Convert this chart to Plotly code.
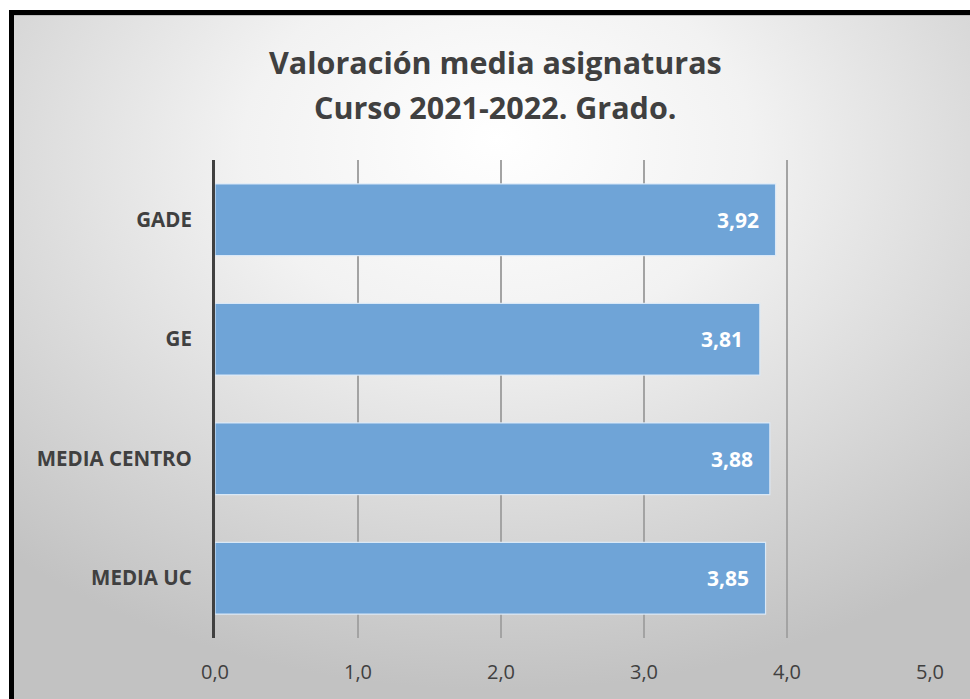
import base64
import plotly.graph_objects as go

# ---- data ----
categories = ["GADE", "GE", "MEDIA CENTRO", "MEDIA UC"]
values = [3.92, 3.81, 3.88, 3.85]
tick_values = [0, 1, 2, 3, 4, 5]
tick_labels = ["0,0", "1,0", "2,0", "3,0", "4,0", "5,0"]
title_line1 = "Valoración media asignaturas"
title_line2 = "Curso 2021-2022. Grado."

W, H = 970, 699
ML, MR, MT, MB = 215, 40, 160, 61
PW, PH = W - ML - MR, H - MT - MB

# background: radial gradient with black frame (as an svg image)
svg = f"""<svg xmlns='http://www.w3.org/2000/svg' width='{W}' height='{H}' viewBox='0 0 {W} {H}'>
<defs><radialGradient id='g' cx='50%' cy='22%' r='75%' fx='50%' fy='18%'>
<stop offset='0' stop-color='#ffffff'/><stop offset='0.35' stop-color='#f2f2f2'/>
<stop offset='1' stop-color='#c2c2c2'/></radialGradient></defs>
<rect x='0' y='0' width='{W}' height='{H}' fill='#ffffff'/>
<rect x='12' y='12' width='{W}' height='{H}' fill='url(#g)'/>
<rect x='9' y='10' width='{W}' height='5' fill='#000000'/>
<rect x='9' y='10' width='5' height='{H}' fill='#000000'/>
<line x1='14' y1='15.5' x2='{W}' y2='15.5' stroke='#bdbdbd' stroke-width='1'/>
</svg>"""
src = "data:image/svg+xml;base64," + base64.b64encode(svg.encode()).decode()

fig = go.Figure()
fig.add_trace(go.Bar(
    y=categories, x=values, orientation="h",
    marker=dict(color="#6fa4d7", line=dict(color="rgba(220,234,248,0.95)", width=1.2)),
    width=0.6, hoverinfo="skip",
))

for c, v in zip(categories, values):
    fig.add_annotation(x=v, y=c, xref="x", yref="y", text=f"<b>{v:.2f}</b>".replace(".", ","),
                       showarrow=False, xanchor="right", xshift=-15,
                       font=dict(family="Open Sans", size=21, color="#ffffff"))

def px_to_paper_x(px):
    return (px - ML) / PW

def px_to_paper_y(py):
    return (H - MB - py) / PH

fig.add_annotation(x=px_to_paper_x(495), y=px_to_paper_y(62), xref="paper", yref="paper",
                   text=f"<b>{title_line1}</b>", showarrow=False, xanchor="center", yanchor="middle",
                   font=dict(family="Open Sans", size=30.5, color="#404040"))
fig.add_annotation(x=px_to_paper_x(495), y=px_to_paper_y(107), xref="paper", yref="paper",
                   text=f"<b>{title_line2}</b>", showarrow=False, xanchor="center", yanchor="middle",
                   font=dict(family="Open Sans", size=30.5, color="#404040"))

fig.add_layout_image(dict(source=src, xref="paper", yref="paper",
                          x=px_to_paper_x(0), y=px_to_paper_y(0),
                          sizex=W / PW, sizey=H / PH, sizing="stretch",
                          xanchor="left", yanchor="top", layer="below"))

fig.update_layout(
    width=W, height=H,
    margin=dict(l=ML, r=MR, t=MT, b=MB, pad=0),
    paper_bgcolor="#dcdcdc", plot_bgcolor="rgba(0,0,0,0)",
    showlegend=False, separators=",.",
    xaxis=dict(range=[0, 5], tickvals=tick_values, ticktext=tick_labels,
               showgrid=True, gridcolor="#a3a3a3", gridwidth=2, zeroline=False,
               showline=False, ticks="", ticklabelstandoff=20,
               tickfont=dict(family="Open Sans", size=20, color="#404040"), fixedrange=True),
    yaxis=dict(categoryorder="array", categoryarray=categories, autorange="reversed",
               showgrid=False, zeroline=False, showline=True, linecolor="#404040", linewidth=3,
               ticks="", ticklabelstandoff=16,
               tickfont=dict(family="Open Sans", size=20.5, color="#404040", weight="bold"),
               fixedrange=True),
)

fig.write_html("out.html", config={"displayModeBar": False},
               post_script="document.body.style.margin='0px';document.body.style.overflow='hidden';")
